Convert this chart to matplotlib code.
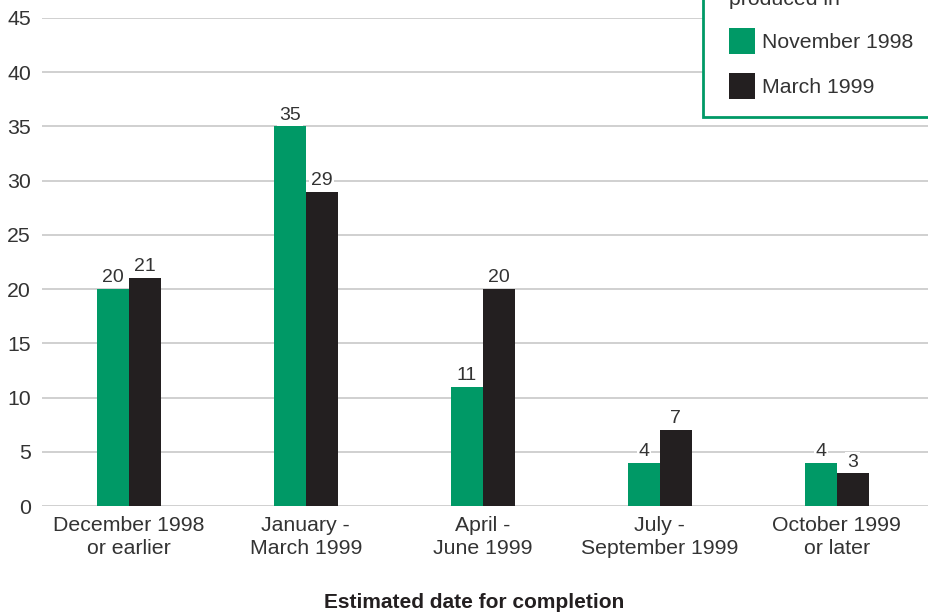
import matplotlib.pyplot as plt
from matplotlib.patches import Rectangle
import numpy as np

plt.rcParams.update({'font.family': ['Liberation Sans', 'DejaVu Sans'], 'font.size': 15.3})

categories = ["December 1998\nor earlier", "January -\nMarch 1999", "April -\nJune 1999",
              "July -\nSeptember 1999", "October 1999\nor later"]
nov_1998 = [20, 35, 11, 4, 4]
mar_1999 = [21, 29, 20, 7, 3]
series_names = ["November 1998", "March 1999"]

GREEN = "#009966"
BLACK = "#231f20"
TEXT = "#333333"
GRID = "#c8c8c8"

W, H = 929, 612
fig = plt.figure(figsize=(W / 100, H / 100), dpi=100)
ax = fig.add_axes([42 / W, 106 / H, 887 / W, 488 / H])

x = np.arange(len(categories))
w = 0.18
bars_a = ax.bar(x - w / 2, nov_1998, w, color=GREEN, label=series_names[0], zorder=3)
bars_b = ax.bar(x + w / 2, mar_1999, w, color=BLACK, label=series_names[1], zorder=3)

for bars, vals in [(bars_a, nov_1998), (bars_b, mar_1999)]:
    for b, v in zip(bars, vals):
        ax.annotate(str(v), (b.get_x() + b.get_width() / 2, v), xytext=(0, 2),
                    textcoords="offset points", ha="center", va="bottom",
                    fontsize=14, color=TEXT, zorder=4,
                    bbox=dict(boxstyle="square,pad=0.1", fc="white", ec="none"))

ax.set_xlim(-0.49, 4.52)
ax.set_ylim(0, 45)
ax.set_yticks(range(0, 50, 5))
ax.set_xticks(x)
ax.set_xticklabels(categories, linespacing=1.3)
ax.grid(axis="y", color=GRID, linewidth=1.2, zorder=0)
ax.tick_params(length=0, colors=TEXT)
ax.tick_params(axis="y", pad=8)
ax.tick_params(axis="x", pad=7)
for s in ax.spines.values():
    s.set_visible(False)

# legend box runs off the top and right edges of the figure
fig.patches.append(Rectangle((703 / W, (H - 117) / H), 0.5, 0.5, transform=fig.transFigure,
                             fc="white", ec=GREEN, lw=2, zorder=5))
leg = fig.legend(handles=[bars_a, bars_b], labels=series_names,
                 title="Estimates\nproduced in", loc="lower left",
                 bbox_to_anchor=(729 / W, (H - 99) / H), bbox_transform=fig.transFigure,
                 borderaxespad=0, borderpad=0, frameon=False,
                 handlelength=1.22, handleheight=1.5, handletextpad=0.33,
                 labelspacing=0.9, alignment="left", title_fontsize=15.3)
leg.set_zorder(6)
for t in leg.get_texts():
    t.set_color(TEXT)
leg.get_title().set_color(TEXT)

fig.text(474 / W, (H - 602) / H, "Estimated date for completion", ha="center", va="center",
         fontsize=15, fontweight="bold", color=BLACK)

fig.savefig("out.png", dpi=100)
